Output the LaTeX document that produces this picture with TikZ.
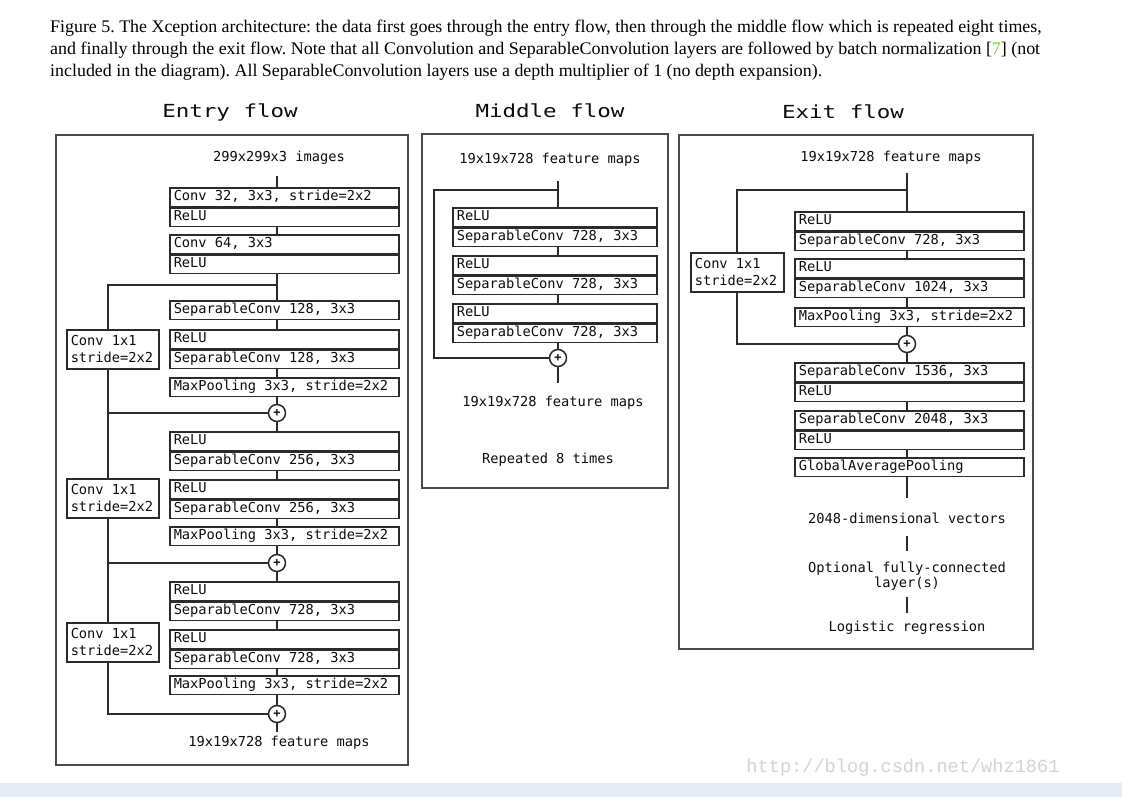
\documentclass[tikz,border=0pt]{standalone}
\usepackage{fontspec}
\setmainfont{Liberation Serif}
\setmonofont{DejaVu Sans Mono}
\newfontfamily\wmfont{Liberation Mono}
\usetikzlibrary{calc}
\definecolor{ln}{HTML}{2B2B2B}
\definecolor{frm}{HTML}{4A4A4A}
\definecolor{band}{HTML}{E4EBF5}
\definecolor{capgreen}{HTML}{6FD83A}
\definecolor{wm}{HTML}{D4D4D4}
\newsavebox\capA
\newlength\capAw
\frenchspacing
\begin{document}
\sbox\capA{\fontsize{17.7}{22}\selectfont\rmfamily Figure 5. The Xception architecture: the data first goes through the entry flow, then through the middle flow which is repeated eight times,}%
\setlength\capAw{\wd\capA}%
\pgfmathsetmacro\capscale{991.5/\capAw}%
\begin{tikzpicture}[x=1pt,y=-1pt,
  every node/.style={font=\fontsize{13.7}{16}\selectfont\ttfamily, text=black!95,
    execute at begin node={\spaceskip=0pt\xspaceskip=0pt\relax}},
  lay/.style={draw=ln, line width=1.5pt, rectangle, anchor=north west, inner xsep=4pt, inner ysep=0pt,
    minimum height=18.5pt, text height=10pt, text depth=3pt, align=left},
  wbig/.style={lay, text width=221pt},
  wmid/.style={lay, text width=196pt},
  side/.style={draw=ln, line width=1.5pt, anchor=north west, inner xsep=4pt, inner ysep=0pt,
    text width=84pt, minimum height=39pt, align=left, font=\fontsize{13.7}{17}\selectfont\ttfamily},
  addop/.style={circle, draw=ln, line width=1.5pt, minimum size=17pt, inner sep=0pt, fill=white,
    font=\fontsize{12}{12}\selectfont\ttfamily\bfseries},
  conn/.style={draw=ln, line width=1.5pt},
  frame/.style={draw=frm, line width=1.5pt},
  ttl/.style={inner sep=0pt, font=\fontsize{18}{20}\selectfont\ttfamily},
  lbl/.style={inner sep=0pt, text height=11.5pt, text depth=1.5pt},
  capline/.style={anchor=base west, inner sep=0pt, font=\fontsize{17.7}{22}\selectfont\rmfamily, text=black}
]
\useasboundingbox (0,0) rectangle (1122,797);
\fill[white] (0,0) rectangle (1122,797);
\fill[band] (0,783) rectangle (1122,797);

% ---------- caption ----------
\node[capline] (cap1) at (50,32.7) {\scalebox{\capscale}[1]{Figure 5. The Xception architecture: the data first goes through the entry flow, then through the middle flow which is repeated eight times,}};
\node[capline] (cap2) at (50,55) {\resizebox{990pt}{\height}{and finally through the exit flow. Note that all Convolution and SeparableConvolution layers are followed by batch normalization [\textcolor{capgreen}{7}] (not}};
\node[capline] (cap3) at (50,76.7) {\scalebox{\capscale}[1]{included in the diagram). All SeparableConvolution layers use a depth multiplier of 1 (no depth expansion).}};

% ---------- titles ----------
\node[ttl] (tE) at (230,112) {\scalebox{1.25}[1]{Entry flow}};
\node[ttl] (tM) at (550,111) {\scalebox{1.25}[1]{Middle flow}};
\node[ttl] (tX) at (843,112) {\scalebox{1.25}[1]{Exit flow}};

% ---------- frames ----------
\draw[frame] (56,135) rectangle (408,765);
\draw[frame] (422,134) rectangle (668,488);
\draw[frame] (679,135) rectangle (1033,649);

% ================= Entry flow =================
\coordinate (es) at (277,176);
\coordinate (elx) at (108,0);
\node[lbl] (ein) at (279,156) {299x299x3 images};
\node[wbig] (e1a) at (169,187) {Conv 32, 3x3, stride=2x2};
\node[wbig] (e1b) at (e1a.south west) {ReLU};
\node[wbig] (e2a) at (169,234) {Conv 64, 3x3};
\node[wbig] (e2b) at (e2a.south west) {ReLU};
\coordinate (ej1) at (277,285);
\node[wbig] (e3) at (169,300) {SeparableConv 128, 3x3};
\node[wbig] (e4a) at (169,329) {ReLU};
\node[wbig] (e4b) at (e4a.south west) {SeparableConv 128, 3x3};
\node[wbig] (e5) at (169,377) {MaxPooling 3x3, stride=2x2};
\node[side] (ec1) at (66,329) {Conv 1x1\\stride=2x2};
\node[addop] (ep1) at (277,413) {+};
\node[wbig] (e6a) at (169,431) {ReLU};
\node[wbig] (e6b) at (e6a.south west) {SeparableConv 256, 3x3};
\node[wbig] (e7a) at (169,479) {ReLU};
\node[wbig] (e7b) at (e7a.south west) {SeparableConv 256, 3x3};
\node[side] (ec2) at (66,478) {Conv 1x1\\stride=2x2};
\node[wbig] (e8) at (169,526) {MaxPooling 3x3, stride=2x2};
\node[addop] (ep2) at (277,563) {+};
\node[wbig] (e9a) at (169,581) {ReLU};
\node[wbig] (e9b) at (e9a.south west) {SeparableConv 728, 3x3};
\node[wbig] (e10a) at (169,629) {ReLU};
\node[wbig] (e10b) at (e10a.south west) {SeparableConv 728, 3x3};
\node[side] (ec3) at (66,622) {Conv 1x1\\stride=2x2};
\node[wbig] (e11) at (169,675) {MaxPooling 3x3, stride=2x2};
\node[addop] (ep3) at (277,714) {+};
\coordinate (eo) at (277,732);
\node[lbl] (eout) at (279,741) {19x19x728 feature maps};

\draw[conn] (es) -- (e1a.north -| es);
\draw[conn] (e1b.south -| es) -- (e2a.north -| es);
\draw[conn] (e2b.south -| es) -- (e3.north -| es);
\draw[conn] (ej1) -- (ej1 -| elx) -- (ec1.north -| elx);
\draw[conn] (e3.south -| es) -- (e4a.north -| es);
\draw[conn] (e4b.south -| es) -- (e5.north -| es);
\draw[conn] (e5.south -| es) -- (ep1.north);
\draw[conn] (ec1.south -| elx) |- (ep1.west);
\draw[conn] (ep1.west -| elx) -- (ec2.north -| elx);
\draw[conn] (ep1.south) -- (e6a.north -| es);
\draw[conn] (e6b.south -| es) -- (e7a.north -| es);
\draw[conn] (e7b.south -| es) -- (e8.north -| es);
\draw[conn] (e8.south -| es) -- (ep2.north);
\draw[conn] (ec2.south -| elx) |- (ep2.west);
\draw[conn] (ep2.west -| elx) -- (ec3.north -| elx);
\draw[conn] (ep2.south) -- (e9a.north -| es);
\draw[conn] (e9b.south -| es) -- (e10a.north -| es);
\draw[conn] (e10b.south -| es) -- (e11.north -| es);
\draw[conn] (e11.south -| es) -- (ep3.north);
\draw[conn] (ec3.south -| elx) |- (ep3.west);
\draw[conn] (ep3.south) -- (eo);

% ================= Middle flow =================
\coordinate (ms) at (558,181);
\coordinate (mj) at (558,190);
\coordinate (mlx) at (434,0);
\node[lbl] (min) at (550,159) {19x19x728 feature maps};
\node[wmid] (m1a) at (452,207) {ReLU};
\node[wmid] (m1b) at (m1a.south west) {SeparableConv 728, 3x3};
\node[wmid] (m2a) at (452,255) {ReLU};
\node[wmid] (m2b) at (m2a.south west) {SeparableConv 728, 3x3};
\node[wmid] (m3a) at (452,303) {ReLU};
\node[wmid] (m3b) at (m3a.south west) {SeparableConv 728, 3x3};
\node[addop] (mp) at (558,358) {+};
\coordinate (mo) at (558,383);
\node[lbl] (mout) at (553,401) {19x19x728 feature maps};
\node[lbl] (mrep) at (548,458) {Repeated 8 times};

\draw[conn] (ms) -- (m1a.north -| ms);
\draw[conn] (mj) -- (mj -| mlx) |- (mp.west);
\draw[conn] (m1b.south -| ms) -- (m2a.north -| ms);
\draw[conn] (m2b.south -| ms) -- (m3a.north -| ms);
\draw[conn] (m3b.south -| ms) -- (mp.north);
\draw[conn] (mp.south) -- (mo);

% ================= Exit flow =================
\coordinate (xs) at (907,173);
\coordinate (xj) at (907,190);
\coordinate (xlx) at (737,0);
\node[lbl] (xin) at (891,157) {19x19x728 feature maps};
\node[wbig] (x1a) at (794,211) {ReLU};
\node[wbig] (x1b) at (x1a.south west) {SeparableConv 728, 3x3};
\node[wbig] (x2a) at (794,258) {ReLU};
\node[wbig] (x2b) at (x2a.south west) {SeparableConv 1024, 3x3};
\node[side, text width=85pt] (xc) at (690,252) {Conv 1x1\\stride=2x2};
\node[wbig] (x3) at (794,307) {MaxPooling 3x3, stride=2x2};
\node[addop] (xp) at (907,344) {+};
\node[wbig] (x4a) at (794,362) {SeparableConv 1536, 3x3};
\node[wbig] (x4b) at (x4a.south west) {ReLU};
\node[wbig] (x5a) at (794,410) {SeparableConv 2048, 3x3};
\node[wbig] (x5b) at (x5a.south west) {ReLU};
\node[wbig] (x6) at (794,457) {GlobalAveragePooling};
\coordinate (xo) at (907,498);
\node[lbl] (xv) at (907,518) {2048-dimensional vectors};
\node[inner sep=0pt, align=center, font=\fontsize{13.7}{15}\selectfont\ttfamily] (xfc) at (907,576) {Optional fully-connected\\layer(s)};
\node[lbl] (xlr) at (907,626) {Logistic regression};

\draw[conn] (xs) -- (x1a.north -| xs);
\draw[conn] (xj) -- (xj -| xlx) -- (xc.north -| xlx);
\draw[conn] (xc.south -| xlx) |- (xp.west);
\draw[conn] (x1b.south -| xs) -- (x2a.north -| xs);
\draw[conn] (x2b.south -| xs) -- (x3.north -| xs);
\draw[conn] (x3.south -| xs) -- (xp.north);
\draw[conn] (xp.south) -- (x4a.north -| xs);
\draw[conn] (x4b.south -| xs) -- (x5a.north -| xs);
\draw[conn] (x5b.south -| xs) -- (x6.north -| xs);
\draw[conn] (x6.south -| xs) -- (xo);
\draw[conn, shorten <=11pt, shorten >=11pt] (xv.south) -- (xfc.north);
\draw[conn, shorten <=7pt, shorten >=6pt] (xfc.south) -- (xlr.north);

% ---------- watermark ----------
\node[inner sep=0pt, text=wm, font=\fontsize{18.6}{20}\selectfont\wmfont] (wmk) at (903,768) {\resizebox{313pt}{\height}{http://blog.csdn.net/whz1861}};
\end{tikzpicture}
\end{document}
